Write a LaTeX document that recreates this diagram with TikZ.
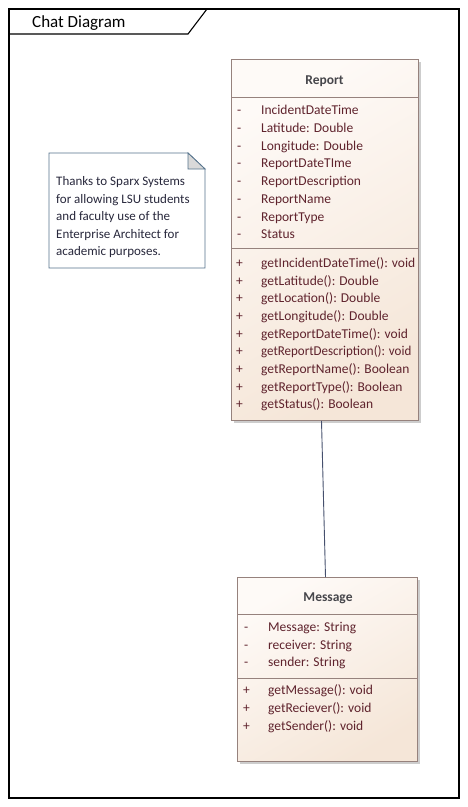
\documentclass[tikz,border=0pt]{standalone}
\usepackage{fontspec}
\setmainfont{Carlito}
\usetikzlibrary{calc}
\definecolor{boxborder}{RGB}{150,130,125}
\definecolor{boxlight}{RGB}{254,250,247}
\definecolor{boxdark}{RGB}{245,230,216}
\definecolor{membtext}{RGB}{95,35,45}
\definecolor{titletext}{RGB}{70,70,75}
\definecolor{noteborder}{RGB}{85,115,140}
\definecolor{notetext}{RGB}{40,40,60}
\definecolor{shadowc}{RGB}{205,205,205}
\definecolor{linkc}{RGB}{70,80,110}
\tikzset{
  classbox/.style={draw=boxborder, line width=0.8pt, top color=boxlight, bottom color=boxdark, shading angle=30, anchor=north west, inner sep=0pt},
  shadowbox/.style={fill=shadowc, draw=none, anchor=north west, inner sep=0pt},
  sep/.style={draw=boxborder, line width=0.8pt},
  memb/.style={anchor=base west, inner sep=0pt, text=membtext, font=\fontsize{13.5}{16}\selectfont},
  ctitle/.style={anchor=base, inner sep=0pt, text=titletext, font=\fontsize{13.5}{16}\selectfont\bfseries},
  notetxt/.style={anchor=base west, inner sep=0pt, text=notetext, font=\fontsize{13}{16}\selectfont},
  link/.style={draw=linkc, line width=0.9pt}
}
\begin{document}
\begin{tikzpicture}[x=1pt,y=-1pt]
\useasboundingbox (0,0) rectangle (467,807);
\fill[white] (0,0) rectangle (467,807);
% frame
\draw[line width=1.1pt] (9,9) rectangle (459,798);
\draw[line width=1.1pt] (9,34) -- (188,34) -- (207,9);
\node[anchor=base west, inner sep=0pt, font=\fontsize{17}{20}\selectfont] (ftitle) at (32,27) {Chat Diagram};

% note
\draw[noteborder, line width=0.8pt, fill=white] (49,153) -- (188,153) -- (205,169) -- (205,268) -- (49,268) -- cycle;
\draw[noteborder, line width=0.8pt, fill=black!15] (188,153) -- (188,169) -- (205,169) -- cycle;
\node[notetxt] (n1) at (56,185.5) {Thanks to Sparx Systems};
\node[notetxt] (n2) at (56,203) {for allowing LSU students};
\node[notetxt] (n3) at (56,220.5) {and faculty use of the};
\node[notetxt] (n4) at (56,238) {Enterprise Architect for};
\node[notetxt] (n5) at (56,255.5) {academic purposes.};

% Report class
\node[shadowbox, minimum width=187pt, minimum height=361pt] (rshadow) at (234,62) {};
\node[classbox, minimum width=187pt, minimum height=361pt] (report) at (231,59) {};
\draw[sep] (231,97) -- (418,97);
\draw[sep] (231,248) -- (418,248);
\node[ctitle] (rtitle) at (324.5,84) {Report};
\foreach \y/\t [count=\i] in {
  110/IncidentDateTime,
  127.7/{Latitude: Double},
  145.4/{Longitude: Double},
  163.1/ReportDateTIme,
  180.8/ReportDescription,
  198.5/ReportName,
  216.2/ReportType,
  233.9/Status}{
  \node[memb] (ra\i) at (261,\y+4.8) {\t};
  \node[memb] (rad\i) at (237,\y+4.8) {-};
}
\foreach \y/\t [count=\i] in {
  262.5/{getIncidentDateTime(): void},
  280.2/{getLatitude(): Double},
  297.9/{getLocation(): Double},
  315.6/{getLongitude(): Double},
  333.3/{getReportDateTime(): void},
  351/{\scalebox{0.96}[1]{getReportDescription(): void}},
  368.7/{getReportName(): Boolean},
  386.4/{getReportType(): Boolean},
  404.1/{getStatus(): Boolean}}{
  \node[memb] (rm\i) at (261,\y+4.8) {\t};
  \node[memb] (rmp\i) at (236,\y+4.8) {+};
}

% Message class
\node[shadowbox, minimum width=180pt, minimum height=184pt] (mshadow) at (240,580) {};
\node[classbox, minimum width=180pt, minimum height=184pt] (message) at (237,577) {};
\draw[sep] (237,614) -- (417,614);
\draw[sep] (237,678) -- (417,678);
\node[ctitle] (mtitle) at (328,601) {Message};
\foreach \y/\t [count=\i] in {
  626.5/{Message: String},
  644.2/{receiver: String},
  661.9/{sender: String}}{
  \node[memb] (ma\i) at (268,\y+4.8) {\t};
  \node[memb] (mad\i) at (244,\y+4.8) {-};
}
\foreach \y/\t [count=\i] in {
  690/{getMessage(): void},
  707.7/{getReciever(): void},
  725.4/{getSender(): void}}{
  \node[memb] (mm\i) at (268,\y+4.8) {\t};
  \node[memb] (mmp\i) at (243,\y+4.8) {+};
}

% association
\coordinate (la) at ($(report.south west)+(90.5,0)$);
\coordinate (lb) at ($(message.north west)+(88.5,0)$);
\draw[link] (la) -- (lb);
\end{tikzpicture}
\end{document}
